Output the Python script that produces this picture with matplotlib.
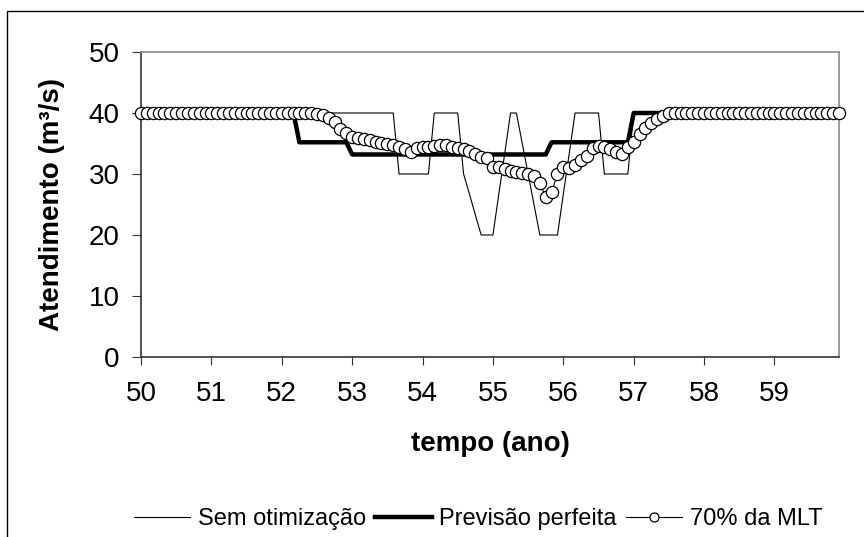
import numpy as np
import matplotlib
matplotlib.use("Agg")
import matplotlib.pyplot as plt
from matplotlib.lines import Line2D
from matplotlib.patches import Rectangle

plt.rcParams['font.family'] = ['Liberation Sans', 'DejaVu Sans']

# monthly steps, years 50 .. 59 + 11/12
tempo = 50 + np.arange(120) / 12

sem_otimizacao = ([40] * 44 + [30] * 6 + [40] * 5 + [30, 26.7, 23.3] + [20] * 3
                  + [26.7, 33.3] + [40] * 2 + [35, 30, 25] + [20] * 4
                  + [26.7, 33.3] + [40] * 5 + [30] * 5 + [40] * 36)

previsao_perfeita = [40] * 27 + [35.2] * 9 + [33.2] * 34 + [35.2] * 14 + [40] * 36

mlt_70 = ([40] * 30
          + [39.8, 39.6, 39.2, 38.6, 37.4, 36.7, 36.1, 35.9, 35.7, 35.6,
             35.3, 35.1, 34.9, 34.8, 34.5, 34.1, 33.6, 34.2, 34.5, 34.5,
             34.6, 34.7, 34.7, 34.4, 34.3, 34.1, 33.8, 33.2, 32.8, 32.6,
             31.2, 31.1, 30.8, 30.5, 30.3, 30.1, 30.0, 29.7, 28.5, 26.2,
             27.0, 30.0, 31.1, 31.0, 31.4, 32.3, 33.0, 34.2, 34.6, 34.5,
             34.1, 33.6, 33.3, 34.5, 35.3, 36.6, 37.6, 38.4, 39.0, 39.5]
          + [40] * 30)

anos = list(range(50, 60))
yticks = [0, 10, 20, 30, 40, 50]

fig = plt.figure(figsize=(8.64, 5.37), dpi=100)
ax = fig.add_axes([141 / 864, 1 - 357 / 537, 698 / 864, 305 / 537])

ax.plot(tempo, sem_otimizacao, color='black', lw=0.8, zorder=2)
ax.plot(tempo, previsao_perfeita, color='black', lw=3.2, zorder=3)
ax.plot(tempo, mlt_70, color='black', lw=0.8, marker='o', markersize=8.8,
        markerfacecolor='white', markeredgecolor='black', markeredgewidth=0.9,
        zorder=4, clip_on=False)

ax.set_xlim(50, tempo[-1])
ax.set_ylim(0, 50)
ax.set_xticks(anos)
ax.set_yticks(yticks)
ax.tick_params(axis='both', direction='out', labelsize=20, color='#333333')
ax.tick_params(axis='y', length=6.5, pad=9)
ax.tick_params(axis='x', length=6, pad=11)

for side in ['left', 'bottom']:
    ax.spines[side].set_color('#333333')
    ax.spines[side].set_linewidth(1.2)
for side in ['top', 'right']:
    ax.spines[side].set_color('#8c8c8c')
    ax.spines[side].set_linewidth(1.2)

ax.set_xlabel('tempo (ano)', fontsize=20, fontweight='bold', va='center')
ax.xaxis.set_label_coords(0.5, (357 - 444) / 305)
ax.set_ylabel('Atendimento (m³/s)', fontsize=20, fontweight='bold', va='center')
ax.yaxis.set_label_coords((52 - 141) / 698, 0.5)

handles = [
    Line2D([], [], color='black', lw=0.8),
    Line2D([], [], color='black', lw=3.2),
    Line2D([], [], color='black', lw=0.8, marker='o', markersize=6.5,
           markerfacecolor='white', markeredgecolor='black', markeredgewidth=0.9),
]
labels = ['Sem otimização', 'Previsão perfeita', '70% da MLT']
fig.legend(handles, labels, loc='center', ncol=3, frameon=False, fontsize=17,
           bbox_to_anchor=(478 / 864, 1 - 519 / 537), handlelength=2.4,
           handletextpad=0.3, columnspacing=0.4, borderpad=0)

# outer chart border (left and top visible)
fig.add_artist(Rectangle((7 / 864, -0.5), 2, 0.5 + 1 - 11 / 537,
                         transform=fig.transFigure, fill=False,
                         edgecolor='black', lw=1.0))

fig.savefig('out.png', dpi=100)
